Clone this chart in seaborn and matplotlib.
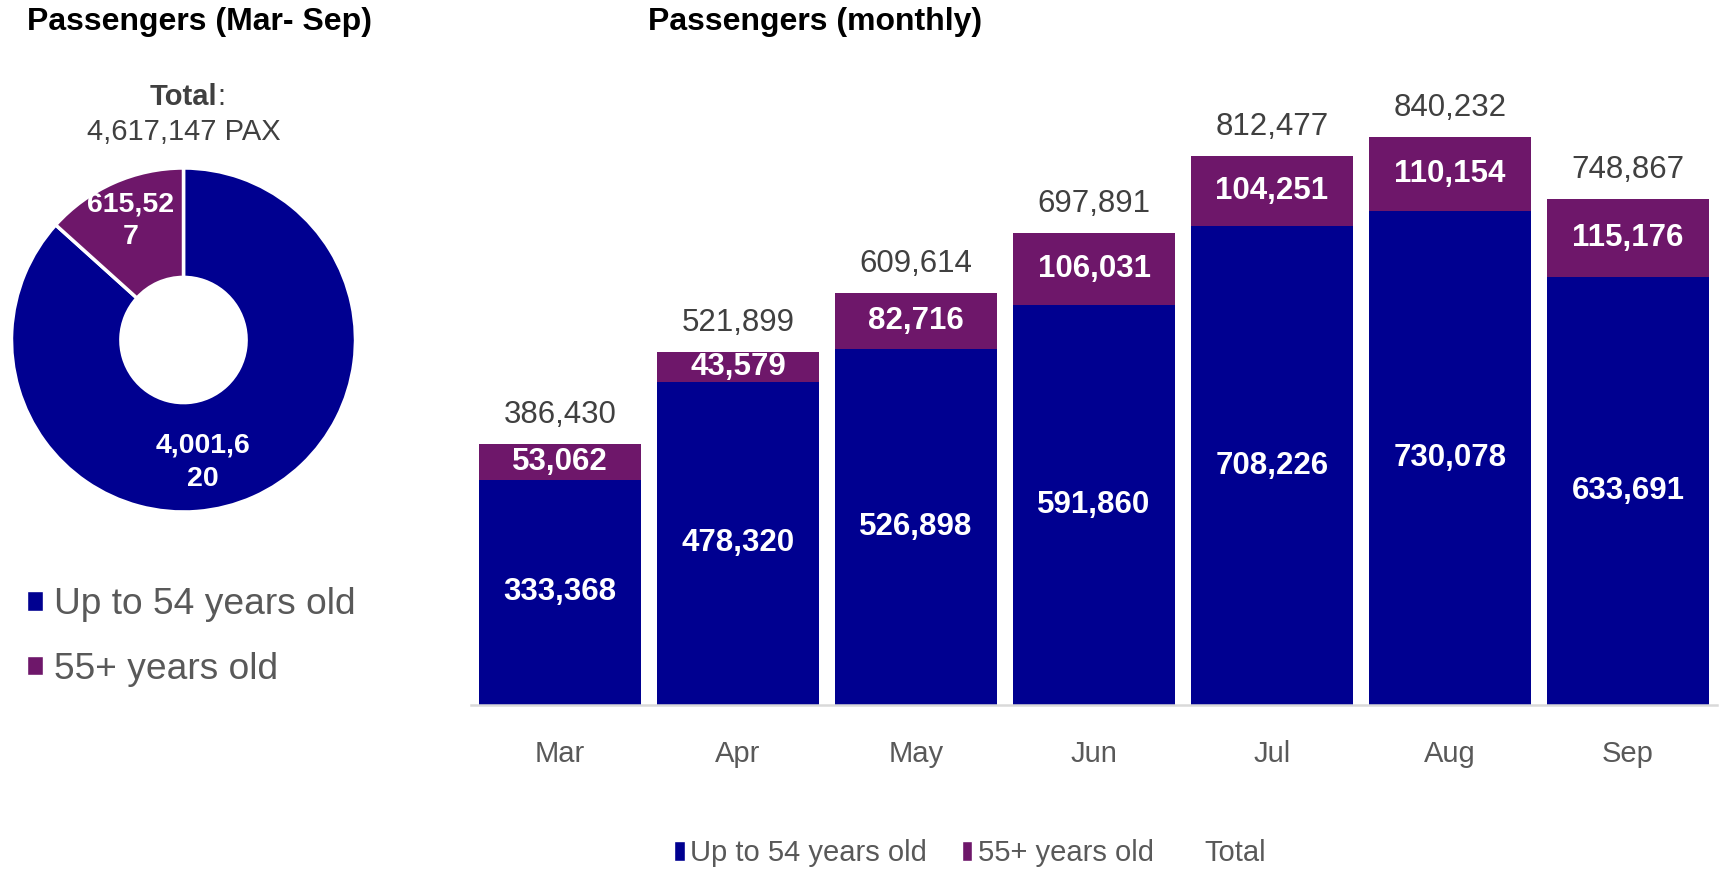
import matplotlib
matplotlib.use("Agg")
import numpy as np
import pandas as pd
import matplotlib.pyplot as plt
from matplotlib.patches import Patch
import seaborn as sns

# Monthly passengers by age group
months = ["Mar", "Apr", "May", "Jun", "Jul", "Aug", "Sep"]
up_to_54 = [333368, 478320, 526898, 591860, 708226, 730078, 633691]
age_55_plus = [53062, 43579, 82716, 106031, 104251, 110154, 115176]
totals = [386430, 521899, 609614, 697891, 812477, 840232, 748867]

# Period (Mar - Sep) split
group_labels = ["Up to 54 years old", "55+ years old"]
period_values = [4001620, 615527]
period_total = 4617147

BLUE = "#000090"
PURPLE = "#6E176A"
DARK = "#404040"
GREY = "#595959"

sns.set_style("white")
plt.rcParams["font.family"] = ["Liberation Sans", "DejaVu Sans"]

W, H = 1719, 872
fig = plt.figure(figsize=(W / 100, H / 100), dpi=100)


def px_axes(left, top, right, bottom):
    return fig.add_axes([left / W, 1 - bottom / H, (right - left) / W, (bottom - top) / H])


# ---- stacked monthly bars ----
ax = px_axes(471, 29, 1717, 705)
df = pd.DataFrame({"month": months, "up": up_to_54, "old": age_55_plus, "total": totals})
bar_kw = dict(saturation=1, width=0.91, linewidth=0, edgecolor="none")
sns.barplot(data=df, x="month", y="total", color=PURPLE, ax=ax, **bar_kw)
sns.barplot(data=df, x="month", y="up", color=BLUE, ax=ax, **bar_kw)
ax.set_xlim(-0.5, len(months) - 0.5)
ax.set_ylim(0, 1_000_000)
ax.set_xlabel("")
ax.set_ylabel("")
ax.set_yticks([])
ax.tick_params(axis="x", length=0, pad=25.5, labelsize=21, labelcolor=GREY)
for side in ["top", "right", "left"]:
    ax.spines[side].set_visible(False)
ax.spines["bottom"].set_color("#D9D9D9")
ax.spines["bottom"].set_linewidth(1.8)

for i, (u, o, t) in enumerate(zip(up_to_54, age_55_plus, totals)):
    ax.text(i, u / 2, f"{u:,}", ha="center", va="center", color="white",
            fontsize=22.5, fontweight="bold")
    ax.text(i, u + o / 2, f"{o:,}", ha="center", va="center", color="white",
            fontsize=22.5, fontweight="bold")
    ax.annotate(f"{t:,}", (i, t), xytext=(0, 21), textcoords="offset points",
                ha="center", va="center", color=DARK, fontsize=22.5)

# ---- donut for the whole period ----
cx, cy, r = 183.5, 340, 172
pax = px_axes(cx - r, cy - r, cx + r, cy + r)
wedges, _ = pax.pie(period_values, startangle=90, counterclock=False,
                    colors=[BLUE, PURPLE], radius=1,
                    wedgeprops=dict(width=0.636, edgecolor="white", linewidth=2.5))
pax.set_xlim(-1, 1)
pax.set_ylim(-1, 1)
pax.set_aspect("equal")

label_split = [7, 6]
label_radius = [0.72, 0.76]
label_turn = [-15, 0]
for w, v, k, rr, dt in zip(wedges, period_values, label_split, label_radius, label_turn):
    s = f"{v:,}"
    ang = np.deg2rad((w.theta1 + w.theta2) / 2 + dt)
    pax.text(rr * np.cos(ang), rr * np.sin(ang), s[:k] + "\n" + s[k:],
             ha="center", va="center", color="white", fontsize=20.5,
             fontweight="bold", linespacing=1.35)

fig.text(217 / W, 1 - 97 / H, "Total", ha="right", va="center",
         fontsize=21, fontweight="bold", color=DARK)
fig.text(217 / W, 1 - 97 / H, ":", ha="left", va="center", fontsize=21, color=DARK)
fig.text(cx / W, 1 - 132 / H, f"{period_total:,} PAX", ha="center", va="center",
         fontsize=21, color=DARK)

# ---- titles ----
fig.text(27 / W, 1 - 22 / H, "Passengers (Mar- Sep)", ha="left", va="center",
         fontsize=23, fontweight="bold", color="black")
fig.text(648 / W, 1 - 22 / H, "Passengers (monthly)", ha="left", va="center",
         fontsize=23, fontweight="bold", color="black")

# ---- legends ----
fig.legend(handles=[Patch(facecolor=BLUE), Patch(facecolor=PURPLE)], labels=group_labels,
           loc="center left", bbox_to_anchor=(27 / W, 1 - 637 / H), frameon=False,
           fontsize=26.7, labelcolor=GREY, handlelength=0.42, handleheight=0.42,
           handletextpad=0.3, labelspacing=0.8, borderpad=0, borderaxespad=0)

fig.legend(handles=[Patch(facecolor=BLUE), Patch(facecolor=PURPLE),
                    Patch(facecolor="none", edgecolor="none")],
           labels=group_labels + ["Total"], ncol=3,
           loc="center", bbox_to_anchor=(970 / W, 1 - 853 / H), frameon=False,
           fontsize=21, labelcolor=GREY, handlelength=0.36, handleheight=0.68,
           handletextpad=0.18, columnspacing=1.2, borderpad=0, borderaxespad=0)

fig.savefig("out.png", dpi=100, facecolor="white")
